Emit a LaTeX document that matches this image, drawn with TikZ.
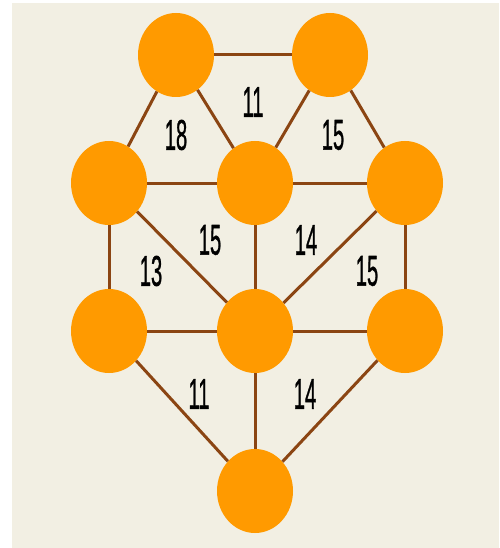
\documentclass[tikz,border=0pt]{standalone}
\usepackage{fontspec}
\usepackage{xcolor}
\usepackage{tikz}
\usetikzlibrary{shapes.geometric}
\newfontfamily\wtfont[FakeBold=1.2]{Liberation Sans}
\newcommand{\wtnum}[1]{\scalebox{0.47}[1]{#1}}
\definecolor{bgbeige}{HTML}{F2EFE3}
\definecolor{vtxorange}{HTML}{FF9A00}
\definecolor{edgebrown}{HTML}{8B4513}

\begin{document}
\begin{tikzpicture}[x=1pt, y=-1pt,
  vtx/.style={ellipse, fill=vtxorange, minimum width=76pt, minimum height=84pt, inner sep=0pt},
  edge/.style={draw=edgebrown, line width=3pt},
  wt/.style={font={\fontsize{43}{43}\selectfont\wtfont}, inner sep=0pt}]
  \useasboundingbox (0,0) rectangle (499,548);
  \fill[bgbeige] (12,3) rectangle (499,548);
  % vertices
  \node[vtx] (tl) at (176,55) {};
  \node[vtx] (tr) at (330,55) {};
  \node[vtx] (ml) at (109,183) {};
  \node[vtx] (mc) at (255,183) {};
  \node[vtx] (mr) at (405,183) {};
  \node[vtx] (ll) at (109,331) {};
  \node[vtx] (lc) at (255,331) {};
  \node[vtx] (lr) at (405,331) {};
  \node[vtx] (bt) at (255,491) {};
  % edges
  \draw[edge] (tl) -- (tr);
  \draw[edge] (tl) -- (ml);
  \draw[edge] (tl) -- (mc);
  \draw[edge] (tr) -- (mc);
  \draw[edge] (tr) -- (mr);
  \draw[edge] (ml) -- (mc);
  \draw[edge] (mc) -- (mr);
  \draw[edge] (ml) -- (ll);
  \draw[edge] (ml) -- (lc);
  \draw[edge] (mc) -- (lc);
  \draw[edge] (mr) -- (lc);
  \draw[edge] (mr) -- (lr);
  \draw[edge] (ll) -- (lc);
  \draw[edge] (lc) -- (lr);
  \draw[edge] (ll) -- (bt);
  \draw[edge] (lc) -- (bt);
  \draw[edge] (lr) -- (bt);
  % face weights
  \node[wt] (w1) at (253,102) {\wtnum{11}};
  \node[wt] (w2) at (176,135) {\wtnum{18}};
  \node[wt] (w3) at (333,135) {\wtnum{15}};
  \node[wt] (w4) at (210,240) {\wtnum{15}};
  \node[wt] (w5) at (306,240) {\wtnum{14}};
  \node[wt] (w6) at (151,271) {\wtnum{13}};
  \node[wt] (w7) at (367,271) {\wtnum{15}};
  \node[wt] (w8) at (199,394) {\wtnum{11}};
  \node[wt] (w9) at (305,394) {\wtnum{14}};
\end{tikzpicture}
\end{document}
